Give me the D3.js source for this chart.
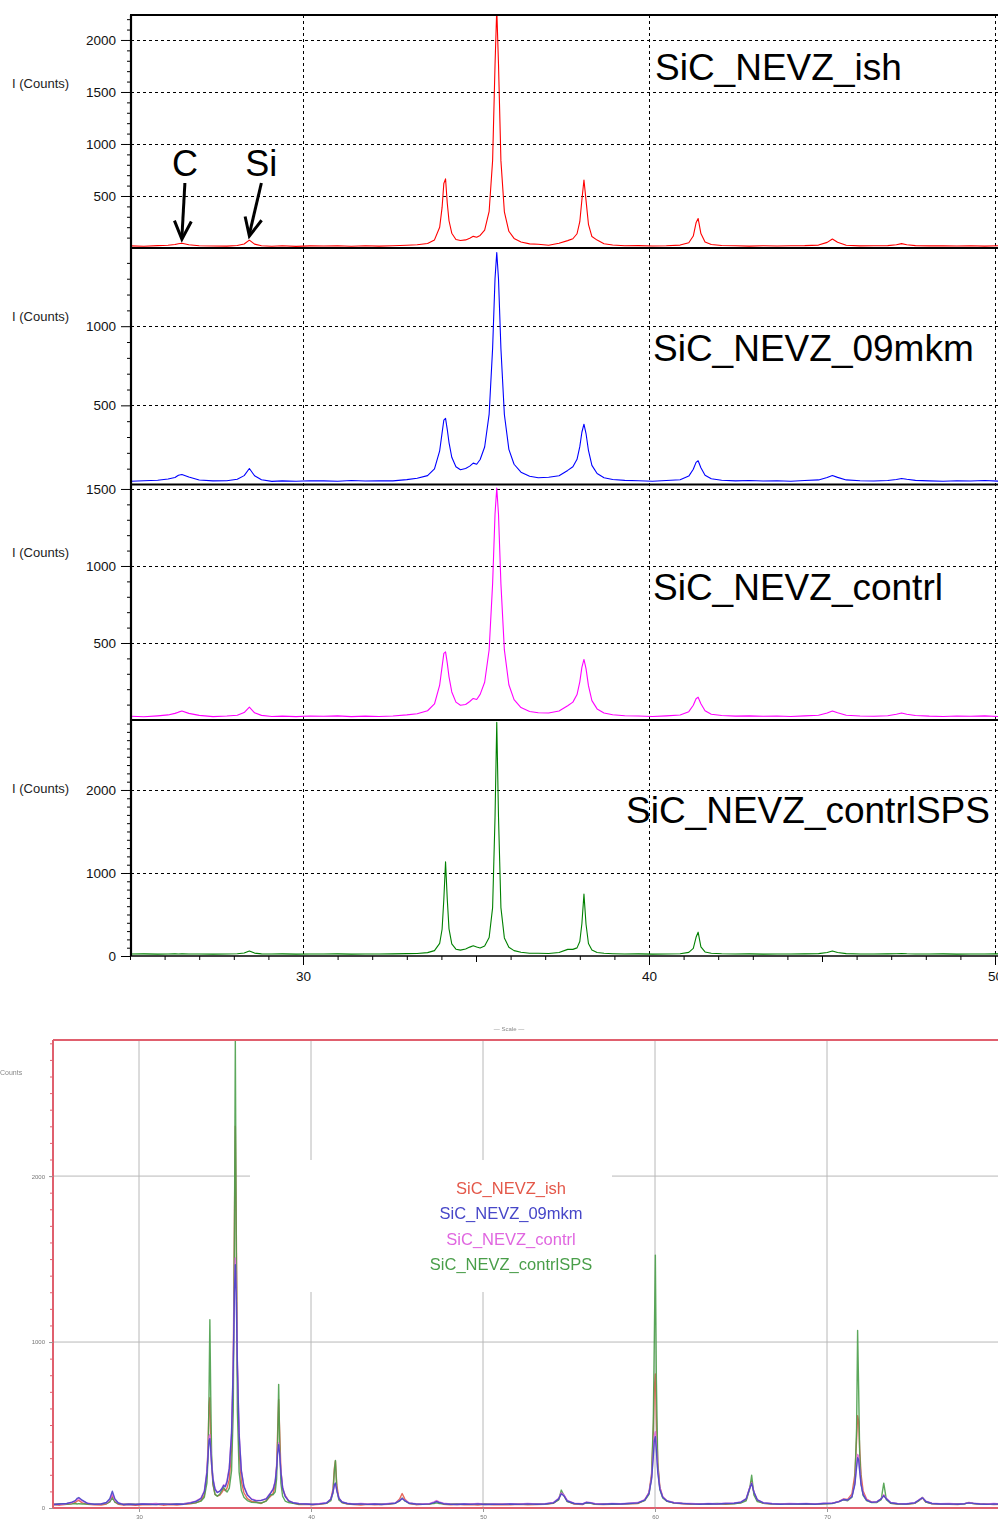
<!DOCTYPE html>
<html>
<head>
<meta charset="utf-8">
<script src="https://cdn.jsdelivr.net/npm/d3@7"></script>
<style>
  body { margin: 0; background: #fff; }
  svg { display: block; }
  text { font-family: "Liberation Sans", Arial, sans-serif; }
</style>
</head>
<body>
<svg id="chart" width="998" height="1526"></svg>
<script>
// Diffraction angle 2θ (degrees) shared by all four scans
const twoTheta = [
  25.0, 25.4, 25.8, 26.1, 26.3, 26.4, 26.5, 26.7, 27.0, 27.4,
  27.8, 28.1, 28.3, 28.45, 28.6, 28.8, 29.1, 29.4, 29.8, 30.2,
  30.6, 31.0, 31.4, 31.8, 32.2, 32.6, 33.0, 33.3, 33.6, 33.8,
  33.95, 34.02, 34.07, 34.12, 34.17, 34.22, 34.3, 34.42, 34.55, 34.7,
  34.82, 34.92, 35.02, 35.12, 35.25, 35.38, 35.48, 35.55, 35.6, 35.65,
  35.72, 35.82, 35.95, 36.1, 36.3, 36.55, 36.8, 37.1, 37.4, 37.65,
  37.8, 37.92, 38.0, 38.06, 38.12, 38.18, 38.25, 38.35, 38.5, 38.7,
  38.95, 39.3, 39.7, 40.1, 40.5, 40.9, 41.15, 41.28, 41.36, 41.42,
  41.5, 41.62, 41.8, 42.1, 42.5, 42.9, 43.3, 43.7, 44.1, 44.5,
  44.9, 45.15, 45.3, 45.45, 45.7, 46.1, 46.5, 46.9, 47.15, 47.3,
  47.45, 47.7, 48.1, 48.5, 48.9, 49.3, 49.7, 50.1, 50.6, 51.1,
  51.6, 52.1, 52.6, 53.1, 53.6, 54.1, 54.4, 54.55, 54.7, 54.9,
  55.3, 55.8, 56.0, 56.2, 56.5, 57.0, 57.5, 58.0, 58.5, 59.0,
  59.4, 59.65, 59.8, 59.9, 59.96, 60.02, 60.08, 60.16, 60.28, 60.45,
  60.7, 61.1, 61.6, 62.1, 62.6, 63.1, 63.6, 64.1, 64.6, 65.0,
  65.3, 65.5, 65.62, 65.75, 65.95, 66.3, 66.8, 67.3, 67.8, 68.3,
  68.8, 69.3, 69.8, 70.3, 70.7, 70.95, 71.2, 71.45, 71.62, 71.72,
  71.78, 71.84, 71.9, 71.98, 72.1, 72.3, 72.6, 72.9, 73.15, 73.3,
  73.45, 73.7, 74.1, 74.6, 75.1, 75.35, 75.55, 75.75, 76.1, 76.6,
  77.1, 77.6, 78.0, 78.25, 78.5, 78.9, 79.3, 79.7, 80.1, 80.5
];

// Intensity, counts
const countsIsh = [
  21, 17, 23, 26, 33, 41, 46, 31, 22, 19,
  18, 24, 38, 76, 37, 22, 17, 21, 16, 20,
  19, 22, 17, 21, 18, 22, 26, 31, 44, 78,
  200, 390, 620, 665, 430, 262, 142, 82, 72, 78,
  94, 112, 104, 121, 171, 353, 842, 1760, 2300, 1770,
  840, 348, 161, 92, 57, 40, 36, 27, 45, 71,
  89, 137, 253, 461, 654, 458, 228, 110, 76, 41,
  29, 21, 23, 19, 22, 28, 50, 115, 242, 284,
  139, 58, 33, 24, 21, 18, 22, 19, 21, 23,
  28, 54, 87, 55, 27, 20, 22, 23, 31, 42,
  31, 23, 20, 22, 19, 21, 18, 22, 20, 21,
  19, 22, 20, 21, 23, 29, 52, 93, 76, 40,
  24, 21, 33, 31, 22, 21, 23, 22, 25, 27,
  48, 93, 206, 454, 722, 808, 538, 275, 127, 67,
  41, 30, 26, 23, 24, 22, 25, 23, 27, 32,
  50, 119, 159, 92, 44, 28, 24, 22, 25, 23,
  24, 22, 25, 28, 40, 54, 52, 85, 202, 412,
  556, 522, 357, 201, 103, 54, 35, 36, 55, 77,
  55, 29, 24, 22, 28, 45, 61, 35, 25, 22,
  23, 21, 25, 33, 27, 22, 24, 21, 23, 22
];

const counts09mkm = [
  20, 24, 27, 35, 44, 58, 63, 47, 28, 23,
  24, 33, 56, 101, 55, 30, 20, 23, 21, 24,
  23, 21, 25, 22, 24, 23, 31, 39, 56, 99,
  213, 326, 406, 418, 347, 265, 172, 112, 93, 101,
  116, 135, 128, 158, 237, 445, 860, 1301, 1466, 1300,
  859, 442, 222, 128, 78, 52, 43, 46, 55, 89,
  112, 159, 239, 330, 381, 322, 215, 121, 69, 43,
  32, 26, 24, 21, 25, 30, 53, 96, 140, 150,
  106, 59, 36, 27, 23, 25, 22, 24, 21, 25,
  29, 44, 57, 45, 29, 24, 22, 25, 32, 38,
  33, 26, 23, 21, 24, 22, 25, 21, 23, 22,
  24, 22, 25, 23, 24, 31, 55, 85, 74, 42,
  27, 24, 33, 32, 25, 23, 26, 24, 27, 31,
  48, 88, 172, 308, 406, 430, 344, 216, 115, 65,
  42, 31, 27, 25, 23, 26, 24, 27, 29, 35,
  55, 118, 148, 96, 49, 31, 26, 23, 25, 24,
  26, 23, 27, 28, 38, 51, 48, 68, 141, 246,
  303, 290, 221, 141, 81, 48, 34, 37, 55, 74,
  55, 32, 26, 24, 31, 48, 61, 39, 27, 24,
  25, 23, 26, 31, 28, 24, 22, 25, 23, 24
];

const countsContrl = [
  25, 21, 27, 33, 43, 51, 58, 43, 30, 22,
  26, 31, 48, 84, 47, 30, 23, 25, 22, 26,
  24, 27, 22, 25, 23, 26, 33, 41, 60, 104,
  227, 347, 432, 442, 369, 280, 182, 116, 96, 101,
  120, 140, 133, 166, 245, 456, 884, 1338, 1506, 1336,
  884, 455, 229, 132, 81, 55, 47, 45, 58, 93,
  116, 165, 248, 342, 393, 334, 223, 126, 72, 45,
  34, 28, 26, 23, 27, 32, 54, 96, 138, 148,
  106, 60, 37, 29, 25, 27, 24, 26, 23, 27,
  31, 46, 58, 47, 31, 26, 24, 28, 37, 45,
  37, 29, 25, 23, 26, 24, 27, 23, 25, 24,
  26, 24, 27, 25, 26, 34, 59, 92, 80, 46,
  29, 26, 35, 34, 27, 25, 28, 26, 29, 33,
  50, 93, 183, 329, 434, 460, 367, 230, 122, 68,
  44, 33, 29, 27, 25, 28, 26, 29, 31, 37,
  56, 120, 152, 98, 50, 32, 27, 25, 27, 26,
  28, 25, 29, 29, 39, 53, 48, 71, 149, 262,
  323, 310, 234, 149, 85, 50, 35, 38, 56, 79,
  58, 34, 28, 26, 32, 50, 63, 41, 29, 26,
  27, 25, 28, 32, 29, 26, 24, 27, 25, 26
];

const countsContrlSPS = [
  24, 26, 23, 25, 27, 24, 26, 24, 25, 23,
  25, 27, 37, 61, 35, 26, 24, 26, 23, 25,
  24, 26, 23, 25, 24, 26, 29, 31, 41, 65,
  152, 322, 681, 1134, 682, 327, 146, 82, 71, 84,
  107, 124, 108, 96, 120, 223, 583, 1671, 2815, 1680,
  583, 218, 105, 65, 45, 34, 33, 30, 42, 80,
  80, 98, 175, 388, 745, 383, 150, 71, 42, 33,
  28, 24, 26, 23, 25, 28, 44, 91, 225, 287,
  111, 49, 33, 27, 24, 26, 23, 25, 24, 26,
  29, 42, 60, 43, 29, 25, 24, 26, 27, 31,
  27, 25, 24, 26, 23, 25, 24, 26, 23, 25,
  24, 26, 23, 25, 24, 30, 49, 108, 77, 38,
  27, 25, 31, 30, 24, 26, 23, 25, 27, 29,
  45, 82, 188, 517, 1015, 1524, 773, 266, 113, 60,
  40, 32, 28, 25, 26, 24, 27, 25, 26, 31,
  43, 113, 197, 79, 38, 29, 25, 24, 26, 23,
  25, 24, 26, 27, 38, 49, 44, 65, 162, 477,
  1070, 715, 328, 150, 76, 44, 33, 33, 50, 150,
  50, 29, 26, 24, 29, 45, 64, 36, 27, 25,
  24, 26, 25, 32, 27, 24, 26, 23, 25, 24
];

const sampleNames = ["SiC_NEVZ_ish", "SiC_NEVZ_09mkm", "SiC_NEVZ_contrl", "SiC_NEVZ_contrlSPS"];
const sampleCounts = [countsIsh, counts09mkm, countsContrl, countsContrlSPS];

// Stacked panels: upper end of each intensity axis and its labelled ticks
const panelMax = [2240, 1494, 1529, 2843];
const panelTicks = [[500, 1000, 1500, 2000], [500, 1000], [500, 1000, 1500], [0, 1000, 2000]];
const stackXTicks = [30, 40, 50];

// Overlay plot axes
const overlayXTicks = [30, 40, 50, 60, 70];
const overlayYTicks = [0, 1000, 2000];

// Phase markers in the first panel
const peakMarkers = ["C", "Si"];
const peakAngles = [26.5, 28.45];

// ---------------------------------------------------------------
const stackColors = ["#ff0000", "#0000ff", "#ff00ff", "#008000"];
const overlayColors = ["#e4584a", "#4646c8", "#e066e0", "#4a9e4a"];

const svg = d3.select("#chart");
const series = sampleCounts.map(c => twoTheta.map((t, i) => [t, c[i]]));
const defs = svg.append("defs");

// ===== Stacked panels =====
const left = 131, right = 998;
const xTop = d3.scaleLinear().domain([25, 50]).range([130, 995]);
const edges = [15, 248, 484.5, 720, 956];
const labelPos = [[655, 80], [653, 361], [653, 600], [626, 823]];

const stack = svg.append("g");

const yPanels = panelMax.map((m, i) =>
  d3.scaleLinear().domain([0, m]).range([edges[i + 1], edges[i]]));

// grid
const grid = stack.append("g").attr("shape-rendering", "crispEdges");
yPanels.forEach((y, i) => {
  panelTicks[i].filter(v => v > 0).forEach(v => {
    grid.append("line")
      .attr("x1", left).attr("x2", right)
      .attr("y1", Math.round(y(v)) + 0.5).attr("y2", Math.round(y(v)) + 0.5)
      .attr("stroke", "#000").attr("stroke-dasharray", "3,3");
  });
});
stackXTicks.forEach(v => {
  grid.append("line")
    .attr("x1", Math.round(xTop(v)) + 0.5).attr("x2", Math.round(xTop(v)) + 0.5)
    .attr("y1", edges[0]).attr("y2", edges[4])
    .attr("stroke", "#000").attr("stroke-dasharray", "3,3");
});

// traces
yPanels.forEach((y, i) => {
  defs.append("clipPath").attr("id", "clip" + i)
    .append("rect").attr("x", left).attr("y", edges[i])
    .attr("width", right - left).attr("height", edges[i + 1] - edges[i]);
  const line = d3.line().x(d => xTop(d[0])).y(d => y(d[1]));
  stack.append("path")
    .datum(series[i])
    .attr("clip-path", "url(#clip" + i + ")")
    .attr("d", line)
    .attr("fill", "none")
    .attr("stroke", stackColors[i])
    .attr("stroke-width", 1.1)
    .attr("stroke-linejoin", "round");
});

// axes
yPanels.forEach((y, i) => {
  const minor = d3.range(100, panelMax[i], 100).filter(v => !panelTicks[i].includes(v));
  const g = stack.append("g").attr("transform", `translate(${left},0)`);
  g.call(d3.axisLeft(y).tickValues(minor).tickSize(4).tickFormat(""));
  const gm = stack.append("g").attr("transform", `translate(${left},0)`);
  gm.call(d3.axisLeft(y).tickValues(panelTicks[i]).tickSize(10).tickPadding(5).tickFormat(d3.format("d")));
  [g, gm].forEach(a => {
    a.select(".domain").remove();
    a.selectAll("line").attr("stroke", "#000");
    a.selectAll("text").attr("font-size", 13.5).attr("fill", "#111")
      .attr("font-family", "'Liberation Sans', Arial, sans-serif");
  });
  stack.append("text")
    .attr("x", 12).attr("y", edges[i] + 68).attr("dy", "0.35em")
    .attr("font-size", 13).attr("fill", "#222")
    .text("I (Counts)");
  stack.append("text")
    .attr("x", labelPos[i][0]).attr("y", labelPos[i][1])
    .attr("font-size", 37).attr("fill", "#000")
    .text(sampleNames[i]);
});

const xMinor = stack.append("g").attr("transform", `translate(0,${edges[4]})`)
  .call(d3.axisBottom(xTop).tickValues(d3.range(25, 51, 1)).tickSize(4).tickFormat(""));
const xMid = stack.append("g").attr("transform", `translate(0,${edges[4]})`)
  .call(d3.axisBottom(xTop).tickValues([35, 45]).tickSize(6).tickFormat(""));
const xMajor = stack.append("g").attr("transform", `translate(0,${edges[4]})`)
  .call(d3.axisBottom(xTop).tickValues(stackXTicks).tickSize(9).tickPadding(6).tickFormat(d3.format("d")));
[xMinor, xMid, xMajor].forEach(a => {
  a.select(".domain").remove();
  a.selectAll("line").attr("stroke", "#000");
  a.selectAll("text").attr("font-size", 13.5).attr("fill", "#111")
    .attr("font-family", "'Liberation Sans', Arial, sans-serif");
});

// frame lines
edges.slice(0, 4).forEach(e => {
  stack.append("line").attr("x1", left - 1).attr("x2", right)
    .attr("y1", e).attr("y2", e).attr("stroke", "#000").attr("stroke-width", 2.2);
});
stack.append("line").attr("x1", left - 1).attr("x2", right)
  .attr("y1", edges[4]).attr("y2", edges[4]).attr("stroke", "#000").attr("stroke-width", 1.5);
stack.append("line").attr("x1", left).attr("x2", left)
  .attr("y1", edges[0]).attr("y2", edges[4]).attr("stroke", "#000").attr("stroke-width", 2.2);

// C / Si markers with arrows
const markerLean = [3, 12];
peakMarkers.forEach((lab, k) => {
  const idx = twoTheta.indexOf(peakAngles[k]);
  const tipX = xTop(peakAngles[k]);
  const tipY = yPanels[0](countsIsh[idx]) - 4;
  const sx = tipX + markerLean[k], sy = 183;
  stack.append("text").attr("x", sx).attr("y", 176)
    .attr("text-anchor", "middle").attr("font-size", 36).attr("fill", "#000").text(lab);
  stack.append("line").attr("x1", sx).attr("y1", sy).attr("x2", tipX).attr("y2", tipY - 2)
    .attr("stroke", "#000").attr("stroke-width", 3);
  const dx = tipX - sx, dy = tipY - sy, L = Math.hypot(dx, dy);
  const ux = dx / L, uy = dy / L, a = 25 * Math.PI / 180, len = 20;
  const arm = s => [tipX - len * (ux * Math.cos(a) - s * uy * Math.sin(a)),
                    tipY - len * (uy * Math.cos(a) + s * ux * Math.sin(a))];
  const p1 = arm(1), p2 = arm(-1);
  stack.append("path")
    .attr("d", `M${p1[0]},${p1[1]}L${tipX},${tipY}L${p2[0]},${p2[1]}`)
    .attr("fill", "none").attr("stroke", "#000").attr("stroke-width", 3)
    .attr("stroke-linejoin", "miter");
});

// ===== Overlay plot =====
const blur = defs.append("filter").attr("id", "soft").attr("x", "-5%").attr("y", "-5%")
  .attr("width", "110%").attr("height", "110%");
blur.append("feGaussianBlur").attr("stdDeviation", 0.75);

const ov = svg.append("g").attr("filter", "url(#soft)");
const x2 = d3.scaleLinear().domain([25, 80]).range([53, 999]);
const y2 = d3.scaleLinear().domain([0, 2820]).range([1508, 1040]);

ov.append("rect").attr("x", 0).attr("y", 1000).attr("width", 998).attr("height", 526).attr("fill", "#fff");

overlayXTicks.forEach(v => {
  ov.append("line").attr("x1", x2(v)).attr("x2", x2(v)).attr("y1", 1040).attr("y2", 1508)
    .attr("stroke", "#b8b8b8").attr("stroke-width", 1);
});
overlayYTicks.filter(v => v > 0).forEach(v => {
  ov.append("line").attr("x1", 53).attr("x2", 998).attr("y1", y2(v)).attr("y2", y2(v))
    .attr("stroke", "#b8b8b8").attr("stroke-width", 1);
});
// legend backdrop
ov.append("rect").attr("x", 250).attr("y", 1160).attr("width", 362).attr("height", 132).attr("fill", "#fff");

const line2 = d3.line().x(d => x2(d[0])).y(d => y2(d[1]));
[0, 3, 2, 1].forEach(i => {
  ov.append("path").datum(series[i]).attr("d", line2)
    .attr("fill", "none").attr("stroke", overlayColors[i])
    .attr("stroke-width", 1.4).attr("stroke-opacity", 0.9)
    .attr("stroke-linejoin", "round");
});

// frame
ov.append("line").attr("x1", 53).attr("x2", 998).attr("y1", 1040).attr("y2", 1040)
  .attr("stroke", "#e0606e").attr("stroke-width", 2);
ov.append("line").attr("x1", 53).attr("x2", 53).attr("y1", 1040).attr("y2", 1509)
  .attr("stroke", "#e0606e").attr("stroke-width", 2);
ov.append("line").attr("x1", 53).attr("x2", 998).attr("y1", 1508).attr("y2", 1508)
  .attr("stroke", "#e0606e").attr("stroke-width", 2);

const yAx2 = ov.append("g").attr("transform", "translate(53,0)")
  .call(d3.axisLeft(y2).tickValues(d3.range(0, 2801, 100)).tickSize(3).tickFormat(""));
yAx2.select(".domain").remove();
yAx2.selectAll("line").attr("stroke", "#e0606e");
const yLab2 = ov.append("g").attr("transform", "translate(53,0)")
  .call(d3.axisLeft(y2).tickValues(overlayYTicks).tickSize(4).tickPadding(4).tickFormat(d3.format("d")));
yLab2.select(".domain").remove();
yLab2.selectAll("line").attr("stroke", "#999");
yLab2.selectAll("text").attr("font-size", 6).attr("fill", "#777");

const xAx2 = ov.append("g").attr("transform", "translate(0,1508)")
  .call(d3.axisBottom(x2).tickValues(overlayXTicks).tickSize(4).tickPadding(3).tickFormat(d3.format("d")));
xAx2.select(".domain").remove();
xAx2.selectAll("line").attr("stroke", "#999");
xAx2.selectAll("text").attr("font-size", 6).attr("fill", "#777");

ov.append("text").attr("x", 0).attr("y", 1075).attr("font-size", 7).attr("fill", "#888").text("Counts");
ov.append("text").attr("x", 509).attr("y", 1031).attr("text-anchor", "middle")
  .attr("font-size", 6).attr("fill", "#888").text("— Scale —");

// legend
sampleNames.forEach((n, i) => {
  ov.append("text").attr("x", 511).attr("y", 1188 + i * 25.5).attr("dy", "0.35em")
    .attr("text-anchor", "middle").attr("font-size", 16.5)
    .attr("fill", overlayColors[i]).text(n);
});
</script>
</body>
</html>
